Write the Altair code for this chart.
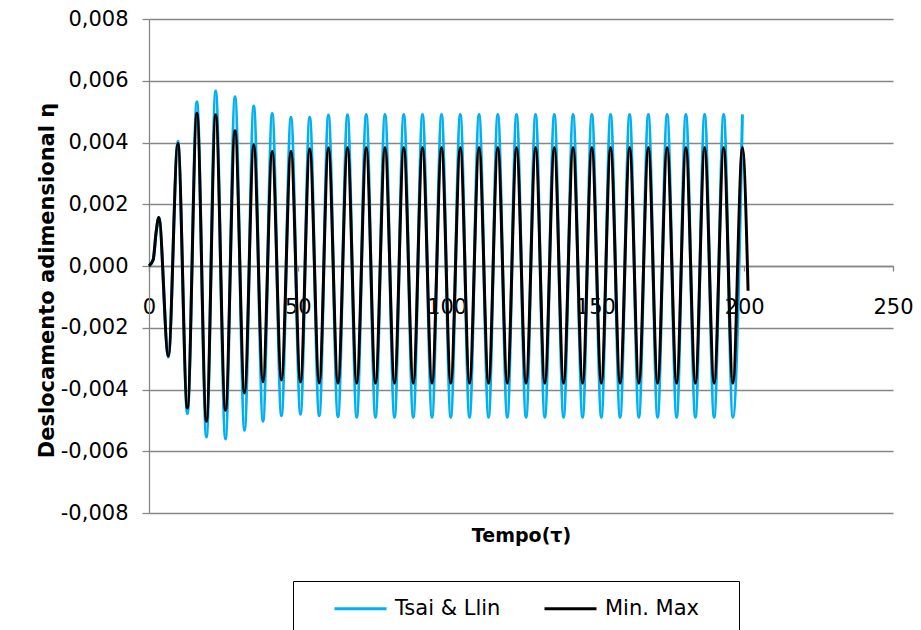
import altair as alt
import pandas as pd

# Dimensionless time (tau) at the turning points of the response
tau = [
    0.0, 1.4, 2.4, 3.3, 6.5, 9.7, 12.9, 16.1, 19.3, 22.4, 25.7, 28.9, 32.1,
    35.2, 38.3, 41.4, 44.5,
    47.7, 50.9, 54.0, 57.2, 60.3, 63.5, 66.7, 69.8, 73.0, 76.1, 79.3, 82.5,
    85.6, 88.8, 91.9, 95.1, 98.3, 101.4, 104.6, 107.7, 110.9, 114.1, 117.2,
    120.4, 123.5, 126.7, 129.9, 133.0, 136.2, 139.3, 142.5, 145.7, 148.8,
    152.0, 155.1, 158.3, 161.5, 164.6, 167.8, 170.9, 174.1, 177.3, 180.4,
    183.6, 186.7, 189.9, 193.1, 196.2, 199.4,
]

# Tsai & Llin solution: dimensionless displacement at those instants
eta_tsai = [
    0.0, 0.0002, 0.0011, 0.00157, -0.00295, 0.00404, -0.00478, 0.00532,
    -0.00554, 0.00567, -0.00560, 0.00548, -0.00532, 0.00518, -0.00503,
    0.00494, -0.00485,
    0.00482, -0.00480, 0.00482, -0.00485, 0.00489, -0.00488, 0.00490,
    -0.00490, 0.00491, -0.00490, 0.00491, -0.00490, 0.00491, -0.00490,
    0.00491, -0.00490, 0.00491, -0.00490, 0.00491, -0.00490, 0.00491,
    -0.00490, 0.00491, -0.00490, 0.00491, -0.00490, 0.00491, -0.00490,
    0.00491, -0.00490, 0.00491, -0.00490, 0.00491, -0.00490, 0.00491,
    -0.00490, 0.00491, -0.00490, 0.00491, -0.00490, 0.00491, -0.00490,
    0.00491, -0.00490, 0.00491, -0.00490, 0.00491, -0.00490, 0.00491,
]

# Min. Max solution (runs slightly past the last crest)
tau_minmax = tau + [201.3]
eta_minmax = [
    0.0, 0.0002, 0.0011, 0.00157, -0.00292, 0.00397, -0.00460, 0.00495,
    -0.00503, 0.00490, -0.00467, 0.00438, -0.00411, 0.00393, -0.00375,
    0.00372, -0.00369,
    0.00372, -0.00376, 0.00380, -0.00379, 0.00383, -0.00380, 0.00384,
    -0.00380, 0.00384, -0.00380, 0.00384, -0.00380, 0.00384, -0.00380,
    0.00384, -0.00380, 0.00384, -0.00380, 0.00384, -0.00380, 0.00384,
    -0.00380, 0.00384, -0.00380, 0.00384, -0.00380, 0.00384, -0.00380,
    0.00384, -0.00380, 0.00384, -0.00380, 0.00384, -0.00380, 0.00384,
    -0.00380, 0.00384, -0.00380, 0.00384, -0.00380, 0.00384, -0.00380,
    0.00384, -0.00380, 0.00384, -0.00380, 0.00384, -0.00380, 0.00384,
    -0.00080,
]

series = ["Tsai & Llin", "Min. Max"]
colors = ["#00B0F0", "#000000"]

x_ticks = [0, 50, 100, 150, 200, 250]
y_ticks = [-0.008, -0.006, -0.004, -0.002, 0.0, 0.002, 0.004, 0.006, 0.008]

df_tsai = pd.DataFrame({"tau": tau, "eta": eta_tsai, "serie": series[0]})
df_minmax = pd.DataFrame({"tau": tau_minmax, "eta": eta_minmax, "serie": series[1]})

W, H = 744, 494
FONT = "DejaVu Sans"
GRID = "#868686"

x_enc = alt.X(
    "tau:Q",
    scale=alt.Scale(domain=[0, 250], nice=False, zero=False),
    axis=alt.Axis(
        values=x_ticks,
        offset=-H / 2,
        grid=False,
        labelFlush=False,
        labelPadding=25,
        tickSize=5,
        title="Tempo(τ)",
        titleX=W / 2,
        titleY=275,
        titleAlign="center",
        titleBaseline="alphabetic",
    ),
)

y_enc = alt.Y(
    "eta:Q",
    scale=alt.Scale(domain=[-0.008, 0.008], nice=False),
    axis=alt.Axis(
        values=y_ticks,
        grid=True,
        tickSize=7,
        labelPadding=14,
        labelBaseline="middle",
        labelExpr="(datum.value < -1e-9 ? '-' : '') + replace(format(abs(datum.value), '.3f'), '.', ',')",
        title="Deslocamento adimensional η",
        titleAngle=270,
        titleFontSize=21,
        titleX=-102,
        titleY=261,
        titleAlign="center",
        titleBaseline="middle",
    ),
)

color_scale = alt.Scale(domain=series, range=colors)

# Framed legend below the plot; a blank title on the right only widens
# (and deepens) the frame
legend = alt.Legend(
    title=" ",
    titleOrient="right",
    titleFontSize=60,
    titlePadding=40,
    titleAnchor="start",
    titleBaseline="top",
    orient="none",
    legendX=144,
    legendY=562,
    direction="horizontal",
    symbolType="stroke",
    symbolSize=2704,
    symbolStrokeWidth=3,
    symbolOffset=40,
    labelOffset=7,
    columnPadding=2,
    gridAlign="all",
    padding=0,
    strokeColor="black",
    fillColor="white",
    labelFont=FONT,
    labelFontSize=21,
    labelColor="black",
)

tsai = (
    alt.Chart(df_tsai)
    .mark_line(interpolate="monotone", strokeWidth=3)
    .encode(x=x_enc, y=y_enc, color=alt.Color("serie:N", scale=color_scale, legend=legend))
)

minmax = (
    alt.Chart(df_minmax)
    .mark_line(interpolate="monotone", strokeWidth=3)
    .encode(x=x_enc, y=y_enc, color=alt.Color("serie:N", scale=color_scale, legend=legend))
)

chart = (
    alt.layer(tsai, minmax)
    .properties(
        width=W,
        height=H,
        autosize=alt.AutoSizeParams(type="none"),
        padding={"left": 149, "top": 19, "right": 28, "bottom": 117},
        background="white",
    )
    .configure_view(stroke=None)
    .configure_axis(
        domainColor=GRID,
        domainWidth=1.3,
        tickColor=GRID,
        tickWidth=1.3,
        gridColor=GRID,
        gridWidth=1.3,
        labelFont=FONT,
        labelFontSize=21,
        labelColor="black",
        titleFont=FONT,
        titleFontSize=19,
        titleFontWeight="bold",
        titleColor="black",
    )
)

chart.save("out.html", embed_options={"renderer": "svg", "actions": False})
